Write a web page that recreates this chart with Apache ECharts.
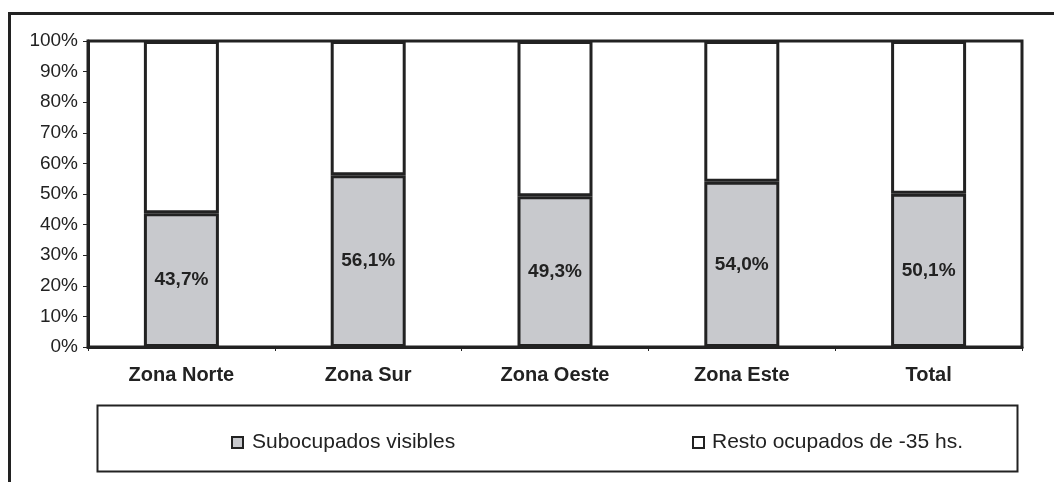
<!DOCTYPE html>
<html>
<head>
<meta charset="utf-8">
<script src="https://cdn.jsdelivr.net/npm/echarts@6/dist/echarts.min.js"></script>
<style>
  html, body { margin: 0; padding: 0; background: #fff; }
  #main { width: 1054px; height: 482px; }
</style>
</head>
<body>
<div id="main"></div>
<script>
var categories = ["Zona Norte", "Zona Sur", "Zona Oeste", "Zona Este", "Total"];
var subocupados = [43.7, 56.1, 49.3, 54.0, 50.1];
var resto = [56.3, 43.9, 50.7, 46.0, 49.9];
var yTicks = [0, 10, 20, 30, 40, 50, 60, 70, 80, 90, 100];

var font = '"Liberation Sans", Arial, sans-serif';
var ink = "#222";

function pct(v) {
  return v.toFixed(1).replace(".", ",") + "%";
}

var myChart = echarts.init(document.querySelector("#main"), null, { renderer: "canvas" });

var options = {
  backgroundColor: "#fff",
  animation: false,
  textStyle: { fontFamily: font, color: ink },
  grid: {
    left: 88, right: 32, top: 41, bottom: 135,
    show: true, borderColor: ink, borderWidth: 3, backgroundColor: "transparent"
  },
  xAxis: {
    type: "category",
    data: categories,
    axisLine: { lineStyle: { color: ink, width: 3 } },
    axisTick: { show: true, length: 4, inside: false, lineStyle: { color: ink, width: 1 } },
    axisLabel: { fontFamily: font, fontSize: 20, fontWeight: "bold", color: ink, margin: 18 }
  },
  yAxis: {
    type: "value",
    min: yTicks[0],
    max: yTicks[yTicks.length - 1],
    interval: 10,
    splitLine: { show: false },
    axisLine: { show: true, lineStyle: { color: ink, width: 3 } },
    axisTick: { show: true, length: 5, lineStyle: { color: ink, width: 1 } },
    axisLabel: {
      fontFamily: font, fontSize: 19, color: ink, margin: 10,
      formatter: function (v) { return v + "%"; }
    }
  },
  legend: [
    {
      data: ["Subocupados visibles"],
      left: 226, top: 427,
      icon: "rect", itemWidth: 11, itemHeight: 11, itemGap: 0,
      textStyle: { fontFamily: font, fontSize: 21, color: ink, padding: [0, 0, 0, 4] },
      itemStyle: { borderColor: ink, borderWidth: 2 }
    },
    {
      data: ["Resto ocupados de -35 hs."],
      left: 687, top: 427,
      icon: "rect", itemWidth: 11, itemHeight: 11, itemGap: 0,
      textStyle: { fontFamily: font, fontSize: 21, color: ink, padding: [0, 0, 0, 3] },
      itemStyle: { borderColor: ink, borderWidth: 2 }
    }
  ],
  graphic: [
    {
      type: "rect", silent: true, z: 0,
      shape: { x: 9.5, y: 13.5, width: 1100, height: 520 },
      style: { fill: "none", stroke: ink, lineWidth: 3 }
    },
    {
      type: "rect", silent: true, z: 0,
      shape: { x: 97.5, y: 405.5, width: 920, height: 66 },
      style: { fill: "none", stroke: ink, lineWidth: 2 }
    }
  ],
  series: [
    {
      name: "Subocupados visibles",
      type: "bar",
      stack: "total",
      barWidth: 75,
      data: subocupados,
      itemStyle: { color: "#c8c9cd", borderColor: ink, borderWidth: 3 },
      label: {
        show: true, position: "inside",
        fontFamily: font, fontSize: 19, fontWeight: "bold", color: ink,
        formatter: function (p) { return pct(p.value); }
      }
    },
    {
      name: "Resto ocupados de -35 hs.",
      type: "bar",
      stack: "total",
      barWidth: 75,
      data: resto,
      itemStyle: { color: "#fff", borderColor: ink, borderWidth: 3 }
    }
  ]
};

myChart.setOption(options);
window.onresize = function () {
  myChart.resize();
};
</script>
</body>
</html>
